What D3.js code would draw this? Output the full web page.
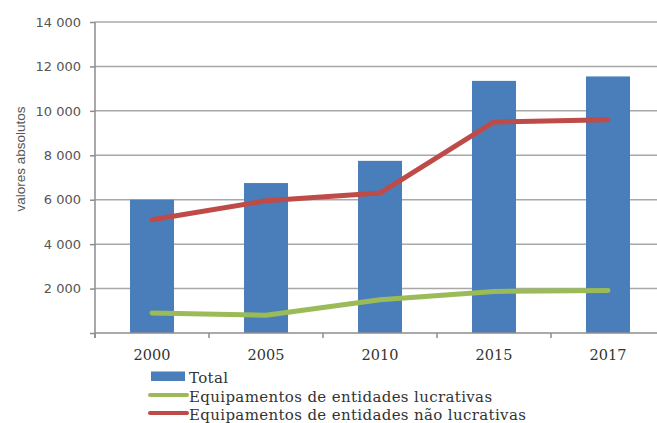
<!DOCTYPE html>
<html>
<head>
<meta charset="utf-8">
<script src="https://cdn.jsdelivr.net/npm/d3@7/dist/d3.min.js"></script>
<style>
  html, body { margin: 0; padding: 0; background: #fff; }
  svg { display: block; }
</style>
</head>
<body>
<svg id="chart" width="657" height="423"></svg>
<script>
// Equipamentos: totais e repartição por tipo de entidade
const years = ["2000", "2005", "2010", "2015", "2017"];
const total = [6000, 6750, 7750, 11350, 11550];
const lucrativas = [900, 800, 1500, 1870, 1910];
const naoLucrativas = [5100, 5950, 6300, 9500, 9600];
const yTicks = [2000, 4000, 6000, 8000, 10000, 12000, 14000];
const legendLabels = [
  "Total",
  "Equipamentos de entidades lucrativas",
  "Equipamentos de entidades não lucrativas"
];

const colors = { total: "#4A7EBB", lucr: "#9BBB59", nao: "#BE4B48" };

const svg = d3.select("#chart");
const plot = { left: 95, right: 665, top: 22, bottom: 333 };

const x = d3.scaleBand()
  .domain(years)
  .range([plot.left, plot.right])
  .paddingInner(0.614)
  .paddingOuter(0.307);

const y = d3.scaleLinear()
  .domain([0, 14000])
  .range([plot.bottom, plot.top]);

const fmt = v => d3.format(",")(v).replace(/,/g, " ");

// horizontal gridlines
svg.append("g")
  .selectAll("line")
  .data(yTicks)
  .join("line")
  .attr("x1", plot.left).attr("x2", plot.right)
  .attr("y1", d => y(d)).attr("y2", d => y(d))
  .attr("stroke", "#a8a8a8")
  .attr("stroke-width", 1.5);

// y axis
const yAxis = svg.append("g")
  .attr("transform", `translate(${plot.left},0)`)
  .call(d3.axisLeft(y).tickValues([0, ...yTicks]).tickSize(5).tickPadding(9).tickFormat(d => d === 0 ? "" : fmt(d)));
yAxis.select(".domain").attr("stroke", "#8c8c8c").attr("stroke-width", 1.5)
  .attr("d", `M0,${plot.top}V${plot.bottom + 5}`);
yAxis.selectAll(".tick line").attr("stroke", "#8c8c8c").attr("stroke-width", 1.5);
yAxis.selectAll(".tick text")
  .attr("fill", "#555")
  .style("font-family", "'DejaVu Sans', sans-serif")
  .style("font-size", "13px");

// bars
svg.append("g")
  .selectAll("rect")
  .data(years.map((yr, i) => ({ yr, v: total[i] })))
  .join("rect")
  .attr("x", d => x(d.yr))
  .attr("width", x.bandwidth())
  .attr("y", d => y(d.v))
  .attr("height", d => y(0) - y(d.v))
  .attr("fill", colors.total);

// x axis with tick marks between categories
const xTickPos = d3.range(years.length + 1).map(i => plot.left + i * x.step());
const xAxis = svg.append("g");
xAxis.append("line")
  .attr("x1", plot.left).attr("x2", plot.right)
  .attr("y1", plot.bottom).attr("y2", plot.bottom)
  .attr("stroke", "#8c8c8c").attr("stroke-width", 1.5);
xAxis.selectAll("line.tick")
  .data(xTickPos)
  .join("line")
  .attr("class", "tick")
  .attr("x1", d => d).attr("x2", d => d)
  .attr("y1", plot.bottom).attr("y2", plot.bottom + 5)
  .attr("stroke", "#8c8c8c").attr("stroke-width", 1.5);
xAxis.selectAll("text")
  .data(years)
  .join("text")
  .attr("x", d => x(d) + x.bandwidth() / 2)
  .attr("y", 360)
  .attr("text-anchor", "middle")
  .attr("fill", "#333")
  .style("font-family", "'DejaVu Serif', serif")
  .style("font-size", "14.5px")
  .text(d => d);

// lines
const line = d3.line()
  .x((d, i) => x(years[i]) + x.bandwidth() / 2)
  .y(d => y(d));

svg.append("path")
  .datum(naoLucrativas)
  .attr("d", line)
  .attr("fill", "none")
  .attr("stroke", colors.nao)
  .attr("stroke-width", 5)
  .attr("stroke-linecap", "round")
  .attr("stroke-linejoin", "round");

svg.append("path")
  .datum(lucrativas)
  .attr("d", line)
  .attr("fill", "none")
  .attr("stroke", colors.lucr)
  .attr("stroke-width", 5)
  .attr("stroke-linecap", "round")
  .attr("stroke-linejoin", "round");

// y axis title
svg.append("text")
  .attr("transform", "translate(25,159) rotate(-90)")
  .attr("text-anchor", "middle")
  .attr("fill", "#555")
  .style("font-family", "'Liberation Sans', Arial, sans-serif")
  .style("font-size", "13.5px")
  .text("valores absolutos");

// legend
const legend = svg.append("g");
const rowY = [382.5, 401.5, 420];
legend.append("rect")
  .attr("x", 151).attr("y", rowY[0] - 11)
  .attr("width", 34).attr("height", 9.5)
  .attr("fill", colors.total);
legend.append("line")
  .attr("x1", 150).attr("x2", 187)
  .attr("y1", rowY[1] - 6.5).attr("y2", rowY[1] - 6.5)
  .attr("stroke", colors.lucr).attr("stroke-width", 4).attr("stroke-linecap", "round");
legend.append("line")
  .attr("x1", 150).attr("x2", 187)
  .attr("y1", rowY[2] - 7).attr("y2", rowY[2] - 7)
  .attr("stroke", colors.nao).attr("stroke-width", 4).attr("stroke-linecap", "round");
legend.selectAll("text")
  .data(legendLabels)
  .join("text")
  .attr("x", 189)
  .attr("y", (d, i) => rowY[i])
  .attr("fill", "#333")
  .style("font-family", "'DejaVu Serif', serif")
  .style("font-size", "15px")
  .style("letter-spacing", "0.35px")
  .text(d => d);
</script>
</body>
</html>
